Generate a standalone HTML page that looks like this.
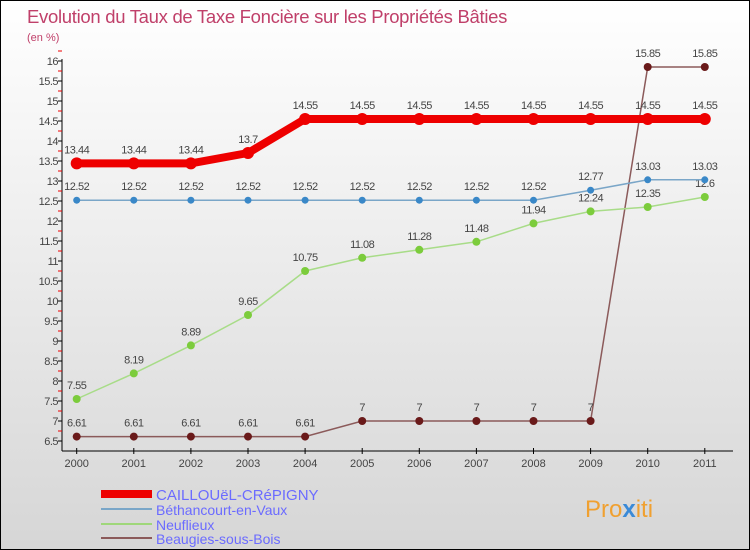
<!DOCTYPE html>
<html><head><meta charset="utf-8"><style>
body{margin:0}
#c{width:750px;height:550px;position:relative;background:linear-gradient(#ffffff,#d6d6d6);border:1px solid #000;box-sizing:border-box;overflow:hidden;font-family:"Liberation Sans",sans-serif}
</style></head><body>
<div id="c">
<svg id="s" width="750" height="550">
<text x="26" y="22" font-size="18.5" letter-spacing="-0.3" fill="#c0406a">Evolution du Taux de Taxe Foncière sur les Propriétés Bâties</text>
<text x="26" y="40" font-size="11" fill="#c0406a">(en %)</text>
<g id="ax"></g><g id="ser"></g>
<g>
<rect x="100" y="489" width="51" height="8" fill="#e00"/>
<text x="155" y="499" font-size="15" fill="#6b6bff">CAILLOUëL-CRéPIGNY</text>
<rect x="100" y="507" width="51" height="2" fill="#7aa6c8"/>
<text x="155" y="514" font-size="14" fill="#6b6bff">Béthancourt-en-Vaux</text>
<rect x="100" y="522" width="51" height="2" fill="#9fd77a"/>
<text x="155" y="529" font-size="14" fill="#6b6bff">Neuflieux</text>
<rect x="100" y="536" width="51" height="2" fill="#8b5a5a"/>
<text x="155" y="543" font-size="14" fill="#6b6bff">Beaugies-sous-Bois</text>
</g>
<g><text x="584" y="516" font-size="24" fill="#f0a030">Pro<tspan fill="#3a8ad8" font-weight="bold">x</tspan>iti</text></g>
</svg></div>
<script>
const years=["2000","2001","2002","2003","2004","2005","2006","2007","2008","2009","2010","2011"];
const caillouel=[13.44,13.44,13.44,13.7,14.55,14.55,14.55,14.55,14.55,14.55,14.55,14.55];
const bethancourt=[12.52,12.52,12.52,12.52,12.52,12.52,12.52,12.52,12.52,12.77,13.03,13.03];
const neuflieux=[7.55,8.19,8.89,9.65,10.75,11.08,11.28,11.48,11.94,12.24,12.35,12.6];
const beaugies=[6.61,6.61,6.61,6.61,6.61,7,7,7,7,7,15.85,15.85];
const yTicks=["6.5","7","7.5","8","8.5","9","9.5","10","10.5","11","11.5","12","12.5","13","13.5","14","14.5","15","15.5","16"];
const NS="http://www.w3.org/2000/svg";
const X=i=>75.7+i*57.1, Y=v=>440-(v-6.5)*40;
function mk(p,t,a){const e=document.createElementNS(NS,t);for(const k in a)e.setAttribute(k,a[k]);p.appendChild(e);return e;}
const ax=document.getElementById('ax'), ser=document.getElementById('ser');
let l=mk(ax,'line',{x1:61,y1:58,x2:61,y2:450,stroke:'#000'});


l=mk(ax,'line',{x1:61,y1:450,x2:732,y2:450,stroke:'#000'});


yTicks.forEach(t=>{const y=Y(+t);
 let tk=mk(ax,'line',{x1:57,y1:y,x2:61,y2:y,stroke:'#000'});
 
 
 let m=mk(ax,'line',{x1:57,y1:y-10,x2:61,y2:y-10,stroke:'#e00'});
 
 
 let tx=mk(ax,'text',{x:57,y:y+4,'font-size':11,fill:'#444','text-anchor':'end','letter-spacing':'-0.5'});
 tx.textContent=t;
 
 
});
years.forEach((t,i)=>{const x=X(i);
 let tk=mk(ax,'line',{x1:x,y1:447,x2:x,y2:453,stroke:'#000'});
 
 
 let tx=mk(ax,'text',{x:x,y:466,'font-size':11,fill:'#444','text-anchor':'middle'});
 tx.textContent=t;
 
 
});
function series(d,name,col,w,r,dot,fmt){
 const g=mk(ser,'g',{});
 
 
 const p=mk(g,'polyline',{points:d.map((v,i)=>X(i)+','+Y(v)).join(' '),fill:'none',stroke:col,'stroke-width':w});
 
 
 d.forEach((v,i)=>{
  const c=mk(g,'circle',{cx:X(i),cy:Y(v),r:r,fill:dot});
  
  
  const t=mk(g,'text',{x:X(i),y:Y(v)-10,'font-size':11,fill:'#444','text-anchor':'middle','letter-spacing':'-0.5'});
  t.textContent=fmt(v);
  
  
 });
}
const f2=v=>String(v);
series(beaugies,'beaugies','#8b5a5a',1.5,4,'#6a1a1a',f2);
series(neuflieux,'neuflieux','#a8dc88',1.5,4,'#7ccc3c',f2);
series(bethancourt,'bethancourt','#7aa6c8',1.5,3.5,'#3a88c8',f2);
series(caillouel,'caillouel','#ee0000',8,6,'#ee0000',f2);
</script>
</body></html>
